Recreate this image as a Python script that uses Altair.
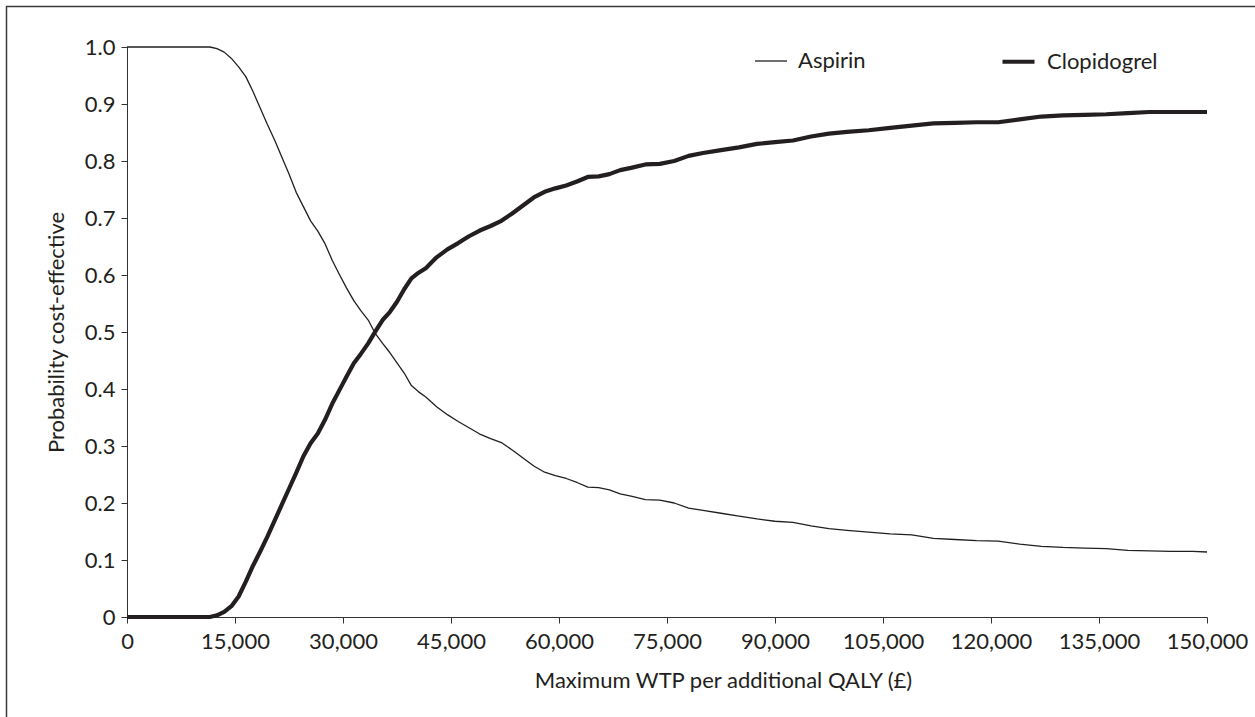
import altair as alt
import pandas as pd

wtp = [0, 5000, 10000, 11500, 12500, 13500, 14500, 15500, 16500, 17500, 18500, 19500,
       20500, 21500, 22500, 23500, 24500, 25500, 26500, 27500, 28500, 29500, 30500,
       31500, 32500, 33500, 34500, 35500, 36500, 37500, 38500, 39500, 40500, 41500,
       43000, 44500, 46000, 47500, 49000, 50500, 52000, 53500, 55000, 56500, 58000,
       59500, 61000, 62500, 64000, 65500, 67000, 68500, 70000, 72000, 74000, 76000,
       78000, 80000, 82500, 85000, 87500, 90000, 92500, 95000, 97500, 100000, 103000,
       106000, 109000, 112000, 115000, 118000, 121000, 124000, 127000, 130000, 133000,
       136000, 139000, 142000, 145000, 148000, 150000]

aspirin = [1.0, 1.0, 1.0, 1.0, 0.997, 0.991, 0.980, 0.965, 0.948, 0.922, 0.893, 0.864,
           0.837, 0.807, 0.777, 0.745, 0.720, 0.695, 0.677, 0.655, 0.626, 0.601, 0.577,
           0.555, 0.537, 0.521, 0.497, 0.480, 0.464, 0.446, 0.428, 0.406, 0.395, 0.386,
           0.369, 0.355, 0.343, 0.332, 0.321, 0.313, 0.306, 0.293, 0.279, 0.265, 0.254,
           0.248, 0.243, 0.236, 0.228, 0.227, 0.223, 0.216, 0.212, 0.206, 0.205, 0.200,
           0.191, 0.187, 0.182, 0.177, 0.172, 0.168, 0.166, 0.160, 0.155, 0.152, 0.149,
           0.146, 0.144, 0.138, 0.136, 0.134, 0.133, 0.128, 0.124, 0.122, 0.121,
           0.120, 0.117, 0.116, 0.115, 0.115, 0.114]

clopidogrel = [0.0, 0.0, 0.0, 0.0, 0.003, 0.009, 0.019, 0.036, 0.062, 0.090, 0.115, 0.141,
               0.169, 0.197, 0.225, 0.253, 0.282, 0.305, 0.322, 0.346, 0.374, 0.398, 0.422,
               0.445, 0.462, 0.480, 0.501, 0.521, 0.535, 0.553, 0.575, 0.594, 0.604, 0.612,
               0.631, 0.645, 0.656, 0.668, 0.678, 0.686, 0.695, 0.708, 0.722, 0.736, 0.746,
               0.752, 0.757, 0.764, 0.772, 0.773, 0.777, 0.784, 0.788, 0.794, 0.795, 0.800,
               0.809, 0.814, 0.819, 0.824, 0.830, 0.833, 0.836, 0.843, 0.848, 0.851, 0.854,
               0.858, 0.862, 0.866, 0.867, 0.868, 0.868, 0.873, 0.878, 0.880, 0.881,
               0.882, 0.884, 0.886, 0.886, 0.886, 0.886]

series_names = ["Aspirin", "Clopidogrel"]
x_ticks = [0, 15000, 30000, 45000, 60000, 75000, 90000, 105000, 120000, 135000, 150000]
y_ticks = [0, 0.1, 0.2, 0.3, 0.4, 0.5, 0.6, 0.7, 0.8, 0.9, 1.0]

rows = []
for s, vals in zip(series_names, [aspirin, clopidogrel]):
    for w, v in zip(wtp, vals):
        rows.append({"wtp": w, "prob": v, "series": s})
df = pd.DataFrame(rows)

FONT = "Lato"
INK = "#231f20"

frame = alt.Chart(pd.DataFrame({"k": [0]})).mark_rect(
    filled=False, stroke="#3a3a3a", strokeWidth=1.5
).encode(
    x=alt.value(-120.5), x2=alt.value(1160),
    y=alt.value(-40.5), y2=alt.value(700)
)

lines = alt.Chart(df).mark_line(color=INK, strokeJoin="round").encode(
    x=alt.X("wtp:Q",
            scale=alt.Scale(domain=[0, 150000], nice=False),
            axis=alt.Axis(values=x_ticks, format=",.0f", grid=False,
                          domainColor="#333333", tickColor="#333333", tickSize=6,
                          labelFont=FONT, labelFontSize=22, labelColor=INK,
                          labelPadding=8, labelFlush=False,
                          title="Maximum WTP per additional QALY (£)",
                          titleFont=FONT, titleFontSize=22, titleFontWeight="normal",
                          titleColor=INK, titleX=596, titleY=70,
                          titleBaseline="alphabetic", titleAlign="center")),
    y=alt.Y("prob:Q",
            scale=alt.Scale(domain=[0, 1], nice=False),
            axis=alt.Axis(values=y_ticks, grid=False,
                          labelExpr="datum.value == 0 ? '0' : format(datum.value, '.1f')",
                          domainColor="#333333", tickColor="#333333", tickSize=6,
                          labelFont=FONT, labelFontSize=22, labelColor=INK,
                          labelPadding=6,
                          title="Probability cost-effective",
                          titleFont=FONT, titleFontSize=22, titleFontWeight="normal",
                          titleColor=INK, titleX=-71, titleBaseline="middle")),
    strokeWidth=alt.StrokeWidth("series:N",
                                scale=alt.Scale(domain=series_names, range=[1.3, 4.2]),
                                legend=alt.Legend(title=None, orient="none",
                                                  legendX=627, legendY=-4,
                                                  direction="horizontal",
                                                  symbolType="stroke", symbolSize=1024,
                                                  symbolStrokeColor=INK,
                                                  labelFont=FONT, labelFontSize=22,
                                                  labelColor=INK, labelOffset=10,
                                                  columnPadding=128, labelLimit=300)),
    detail="series:N",
)

chart = alt.layer(frame, lines).properties(
    width=1080, height=570,
    autosize=alt.AutoSizeParams(type="none"),
    padding={"left": 127, "top": 47, "right": 48, "bottom": 100},
    background="white",
).configure_view(stroke=None)

chart.save("out.html", embed_options={"renderer": "svg", "actions": False})
